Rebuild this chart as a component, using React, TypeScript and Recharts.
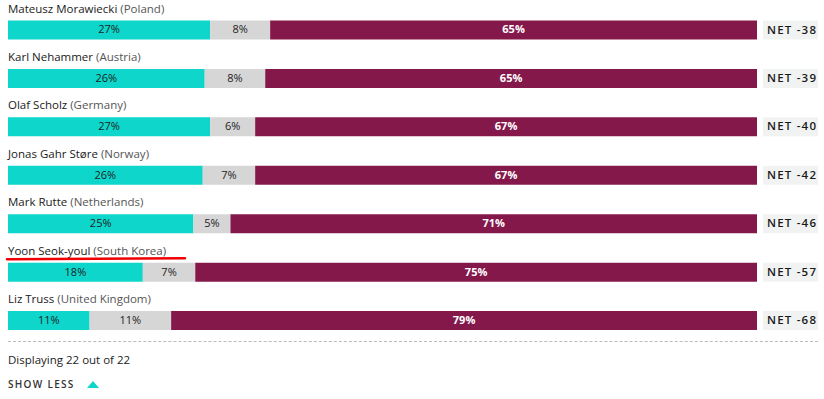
import React from "react";
import { BarChart, Bar, XAxis, YAxis, LabelList } from "recharts";

const leaders = [
  "Mateusz Morawiecki",
  "Karl Nehammer",
  "Olaf Scholz",
  "Jonas Gahr Støre",
  "Mark Rutte",
  "Yoon Seok-youl",
  "Liz Truss",
];
const countries = ["Poland", "Austria", "Germany", "Norway", "Netherlands", "South Korea", "United Kingdom"];
const approve = [27, 26, 27, 26, 25, 18, 11];
const unsure = [8, 8, 6, 7, 5, 7, 11];
const disapprove = [65, 65, 67, 67, 71, 75, 79];
const net = [-38, -39, -40, -42, -46, -57, -68];

const data = leaders.map((name, i) => ({
  name,
  country: countries[i],
  approve: approve[i],
  unsure: unsure[i],
  disapprove: disapprove[i],
  net: net[i],
}));

const FONT = "'Open Sans', 'DejaVu Sans', sans-serif";
const TEAL = "#0fd6ca";
const GRAY = "#d6d6d6";
const PURPLE = "#84184b";

const pctLabel = (color: string, weight: number) => (props: any) => {
  const { x, y, width, height, value } = props;
  return (
    <text
      x={x + width / 2}
      y={y + height / 2}
      dy={0.5}
      textAnchor="middle"
      dominantBaseline="middle"
      fontFamily={FONT}
      fontSize={11}
      fontWeight={weight}
      fill={color}
    >
      {value}%
    </text>
  );
};

const nameLabel = (props: any) => {
  const { x, y, index } = props;
  const d = data[index];
  const highlighted = d.name === "Yoon Seok-youl";
  return (
    <g>
      <text x={x} y={y - 8} fontFamily={FONT} fontSize={11.5} fill="#1a1a1a">
        <tspan>{d.name}</tspan>
        <tspan fill="#555"> ({d.country})</tspan>
      </text>
      {highlighted && (
        <path d={`M ${x - 1} ${y - 3.5} L ${x + 177} ${y - 4.5}`} stroke="#f00000" strokeWidth={2.5} strokeLinecap="round" />
      )}
    </g>
  );
};

const netLabel = (props: any) => {
  const { x, y, width, height, index } = props;
  const d = data[index];
  const bx = x + width + 6;
  return (
    <g>
      <rect x={bx} y={y} width={55} height={height} fill="#f1f3f3" />
      <text
        x={bx + 4}
        y={y + height / 2}
        dy={0.5}
        dominantBaseline="middle"
        fontFamily={FONT}
        fontSize={11.5}
        fontWeight={600}
        letterSpacing={1.2}
        fill="#1a1a1a"
      >
        NET {d.net}
      </text>
    </g>
  );
};

export default function App() {
  return (
    <div style={{ position: "absolute", left: 0, top: 0, width: 824, height: 399, background: "#fff" }}>
      <BarChart
        width={824}
        height={350}
        data={data}
        layout="vertical"
        stackOffset="expand"
        margin={{ top: 5.5, right: 67, bottom: 5.5, left: 8 }}
        barSize={19}
      >
        <XAxis type="number" hide domain={[0, 1]} />
        <YAxis type="category" dataKey="name" hide />
        <Bar dataKey="approve" stackId="a" fill={TEAL} isAnimationActive={false}>
          <LabelList dataKey="approve" content={pctLabel("#1d1d1d", 400)} />
          <LabelList dataKey="name" content={nameLabel} />
        </Bar>
        <Bar dataKey="unsure" stackId="a" fill={GRAY} isAnimationActive={false}>
          <LabelList dataKey="unsure" content={pctLabel("#1d1d1d", 400)} />
        </Bar>
        <Bar dataKey="disapprove" stackId="a" fill={PURPLE} isAnimationActive={false}>
          <LabelList dataKey="disapprove" content={pctLabel("#ffffff", 700)} />
          <LabelList dataKey="net" content={netLabel} />
        </Bar>
      </BarChart>
      <div
        style={{
          position: "absolute",
          left: 8,
          top: 341,
          width: 810,
          borderTop: "1px dashed #bbb",
        }}
      />
      <div
        style={{
          position: "absolute",
          left: 8,
          top: 352,
          fontFamily: FONT,
          fontSize: 11.5,
          color: "#222",
          lineHeight: "16px",
        }}
      >
        Displaying 22 out of 22
      </div>
      <div
        style={{
          position: "absolute",
          left: 8,
          top: 376,
          fontFamily: FONT,
          fontSize: 10,
          fontWeight: 600,
          letterSpacing: 1.3,
          color: "#333",
          lineHeight: "16px",
          display: "flex",
          alignItems: "center",
        }}
      >
        SHOW LESS
        <svg width={12} height={7} style={{ marginLeft: 12 }}>
          <polygon points="0,7 6,0 12,7" fill={TEAL} />
        </svg>
      </div>
    </div>
  );
}
